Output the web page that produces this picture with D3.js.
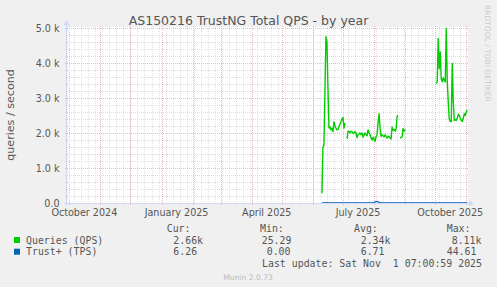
<!DOCTYPE html>
<html><head><meta charset="utf-8">
<script src="https://cdn.jsdelivr.net/npm/d3@7/dist/d3.min.js"></script>
<style>body{margin:0;background:#f0f0f0;overflow:hidden}</style>
</head><body><svg id="c" width="497" height="287"></svg>
<script>
// ---- data ----
const title = "AS150216 TrustNG Total QPS - by year";
const yAxisLabel = "queries / second";
const yTicks = [0, 1000, 2000, 3000, 4000, 5000];
const yTickLabels = ["0.0", "1.0 k", "2.0 k", "3.0 k", "4.0 k", "5.0 k"];
const xLabelMonths = ["2024-10", "2025-01", "2025-04", "2025-07", "2025-10"];
const xTickLabels = ["October 2024", "January 2025", "April 2025", "July 2025", "October 2025"];
const seriesNames = ["Queries (QPS)", "Trust+ (TPS)"];
const seriesStart = "2025-06-10";   // first daily sample
const qpsValues = [
  280,1590,1650,3200,4750,4600,3300,2140,2180,2090,2140,2040,2320,2200,2140,2090,2100,2180,2250,2320,2400,2440,2140,2280,
  null,
  1830,2050,2050,2000,2050,2040,1990,2000,2040,2000,1870,1950,1970,2000,1950,2000,1880,1940,2000,1950,1920,2090,2010,1950,
  1860,1800,1880,1830,1760,1900,1950,2300,2550,2150,1900,1950,1920,1890,1950,1900,1850,1910,1900,1850,1830,2170,2080,2100,
  2050,2120,2480,2510,
  null,
  1850,1880,1890,2130,2050,2100,
  null,null,null,null,null,null,null,null,null,null,null,null,null,null,null,null,null,null,null,null,null,null,null,null,null,null,null,null,null,null,
  3410,3460,4700,3840,4320,3550,3460,3580,3500,3460,4980,3500,2900,2400,2330,2330,3990,2900,2360,2380,2360,2420,2540,2500,
  2420,2360,2330,2420,2550,2500,2600,2660
];
const tpsValues = [
  6,6,7,6,7,8,7,6,6,7,6,6,7,6,6,7,7,6,6,7,6,6,7,6,
  6,
  6,7,6,6,7,6,6,7,6,6,7,6,6,7,6,6,7,6,6,7,6,6,7,6,
  6,7,6,6,30,44,42,40,20,6,7,6,6,7,6,6,7,6,6,7,6,6,7,6,
  6,7,6,6,
  6,
  6,7,6,6,7,6,
  6,7,6,6,7,6,6,7,6,6,7,6,6,7,6,6,7,6,6,7,6,6,7,6,6,7,6,6,7,6,
  6,7,6,6,7,6,6,7,6,6,7,6,6,7,6,6,7,6,6,7,6,6,7,6,
  6,7,6,6,7,6,6,6
];
const legendHeaders = ["Cur:", "Min:", "Avg:", "Max:"];
const legendQps = ["2.66k", "25.29", "2.34k", "8.11k"];
const legendTps = ["6.26", "0.00", "6.71", "44.61"];
const lastUpdate = "Last update: Sat Nov  1 07:00:59 2025";
const footer = "Munin 2.0.73";
const watermark = "RRDTOOL / TOBI OETIKER";

// ---- layout / style ----
const X0 = 67, X1 = 467, Y0 = 203, Y1 = 28;
const colors = ["#00cc00", "#0066b3"];
const textCol = "#555555";
const sans = "'DejaVu Sans', sans-serif";
const mono = "'DejaVu Sans Mono', monospace";

const svg = d3.select("#c");
svg.append("rect").attr("width", 497).attr("height", 287).attr("fill", "#f0f0f0");

const x = d3.scaleTime()
  .domain([new Date(2024, 8, 28, 17), new Date(2025, 10, 1, 17)])
  .range([X0, X1]);
const y = d3.scaleLinear().domain([0, 5000]).range([Y0, Y1]);

svg.append("rect").attr("x", X0).attr("y", Y1 - 1).attr("width", X1 - X0 + 1).attr("height", Y0 - Y1 + 1).attr("fill", "#ffffff");

const crisp = v => Math.round(v) + 0.5;
const grid = svg.append("g");
const minorCol = "#dcdcdc", majorCol = "#f0b8b8";

// minor vertical grid (weeks)
const weeks = d3.timeWeek.range(x.domain()[0], x.domain()[1]);
grid.selectAll(".mnx").data(weeks).join("line")
  .attr("x1", d => crisp(x(d))).attr("x2", d => crisp(x(d)))
  .attr("y1", Y1 - 1).attr("y2", Y0 + 1)
  .attr("stroke", "#e2e2e2").attr("stroke-width", 1).attr("stroke-dasharray", "1,1");

// minor horizontal grid
const minorY = d3.range(200, 5000, 200).filter(v => v % 1000 !== 0);
grid.selectAll(".mny").data(minorY).join("line")
  .attr("x1", X0 - 2).attr("x2", X1 + 2)
  .attr("y1", d => crisp(y(d))).attr("y2", d => crisp(y(d)))
  .attr("stroke", minorCol).attr("stroke-width", 1).attr("stroke-dasharray", "1,1");

// major vertical grid (month starts)
const months = d3.timeMonth.range(new Date(2024, 9, 1), new Date(2025, 10, 2));
grid.selectAll(".mjx").data(months).join("line")
  .attr("x1", d => crisp(x(d))).attr("x2", d => crisp(x(d)))
  .attr("y1", Y1 - 2).attr("y2", Y0 + 2)
  .attr("stroke", majorCol).attr("stroke-width", 1).attr("stroke-dasharray", "1,1");

// major horizontal grid
grid.selectAll(".mjy").data(yTicks.filter(v => v > 0)).join("line")
  .attr("x1", X0 - 2).attr("x2", X1 + 2)
  .attr("y1", d => crisp(y(d))).attr("y2", d => crisp(y(d)))
  .attr("stroke", majorCol).attr("stroke-width", 1).attr("stroke-dasharray", "1,1");

// series
const t0 = d3.timeParse("%Y-%m-%d")(seriesStart);
const mk = vals => vals.map((v, i) => ({ t: d3.timeDay.offset(t0, i), v }));
const line = d3.line().defined(d => d.v != null).x(d => x(d.t)).y(d => y(d.v));
svg.append("path").datum(mk(tpsValues)).attr("d", line)
  .attr("fill", "none").attr("stroke", colors[1]).attr("stroke-width", 1.2);
svg.append("path").datum(mk(qpsValues)).attr("d", line)
  .attr("fill", "none").attr("stroke", colors[0]).attr("stroke-width", 1.4).attr("stroke-linejoin", "round");

// axes
const axisCol = "#cfd6f8";
svg.append("line").attr("x1", X0 - 0.5).attr("x2", X0 - 0.5).attr("y1", Y0 + 3).attr("y2", Y1 - 4).attr("stroke", axisCol);
svg.append("line").attr("x1", X0 - 3).attr("x2", X1 + 3).attr("y1", Y0 + 0.5).attr("y2", Y0 + 0.5).attr("stroke", axisCol);
svg.append("path").attr("d", `M${X0 - 3.5},${Y1 - 3} L${X0 - 0.5},${Y1 - 8} L${X0 + 2.5},${Y1 - 3} Z`).attr("fill", axisCol);
svg.append("path").attr("d", `M${X1 + 2},${Y0 - 2.5} L${X1 + 7},${Y0 + 0.5} L${X1 + 2},${Y0 + 3.5} Z`).attr("fill", axisCol);

// y tick labels
svg.selectAll(".yl").data(yTicks).join("text")
  .attr("x", 59.5).attr("y", d => y(d) + 3.8)
  .attr("text-anchor", "end").attr("font-family", sans).attr("font-size", 9.6).attr("fill", textCol)
  .text((d, i) => yTickLabels[i]);

// x labels (centered mid-month)
svg.selectAll(".xl").data(xLabelMonths).join("text")
  .attr("x", d => x(d3.timeDay.offset(d3.timeParse("%Y-%m")(d), 15)))
  .attr("y", 216)
  .attr("text-anchor", "middle").attr("font-family", sans).attr("font-size", 9.6).attr("fill", textCol)
  .text((d, i) => xTickLabels[i]);

// title
svg.append("text").attr("x", 248.5).attr("y", 24.5).attr("text-anchor", "middle")
  .attr("font-family", sans).attr("font-size", 12.5).attr("fill", textCol).text(title);

// y axis label
svg.append("text").attr("transform", "translate(14,115) rotate(-90)").attr("text-anchor", "middle")
  .attr("font-family", sans).attr("font-size", 11.1).attr("fill", textCol).text(yAxisLabel);

// watermark
svg.append("text").attr("transform", "translate(485,5) rotate(90)").attr("text-anchor", "start")
  .attr("font-family", sans).attr("font-size", 7.5).attr("fill", "#cccccc").text(watermark);

// legend
const keep = s => s.replace(/ {2}/g, " \u00a0");
const lg = svg.append("g").attr("font-family", mono).attr("font-size", 9.9).attr("fill", textCol);
const hdrX = [166.7, 260, 354, 446.7];
lg.selectAll(".h").data(legendHeaders).join("text").attr("x", (d, i) => hdrX[i]).attr("y", 231.8).text(d => d);
const rowsY = [243.5, 255.2];
const valX = [[173.3, 261.7, 360.7, 451.7], [173.3, 266.7, 360.7, 446.7]];
[legendQps, legendTps].forEach((vals, r) => {
  lg.append("rect").attr("x", 14).attr("y", rowsY[r] - 6.5).attr("width", 6).attr("height", 6).attr("fill", colors[r]);
  lg.append("text").attr("x", 26).attr("y", rowsY[r]).text(seriesNames[r]);
  vals.forEach((v, i) => lg.append("text").attr("x", valX[r][i]).attr("y", rowsY[r]).text(v));
});
lg.append("text").attr("x", 482).attr("y", 267.3).attr("text-anchor", "end").text(keep(lastUpdate));

svg.append("text").attr("x", 248).attr("y", 279.5).attr("text-anchor", "middle")
  .attr("font-family", sans).attr("font-size", 7.6).attr("fill", "#bbbbbb").text(footer);
</script>
</body></html>
